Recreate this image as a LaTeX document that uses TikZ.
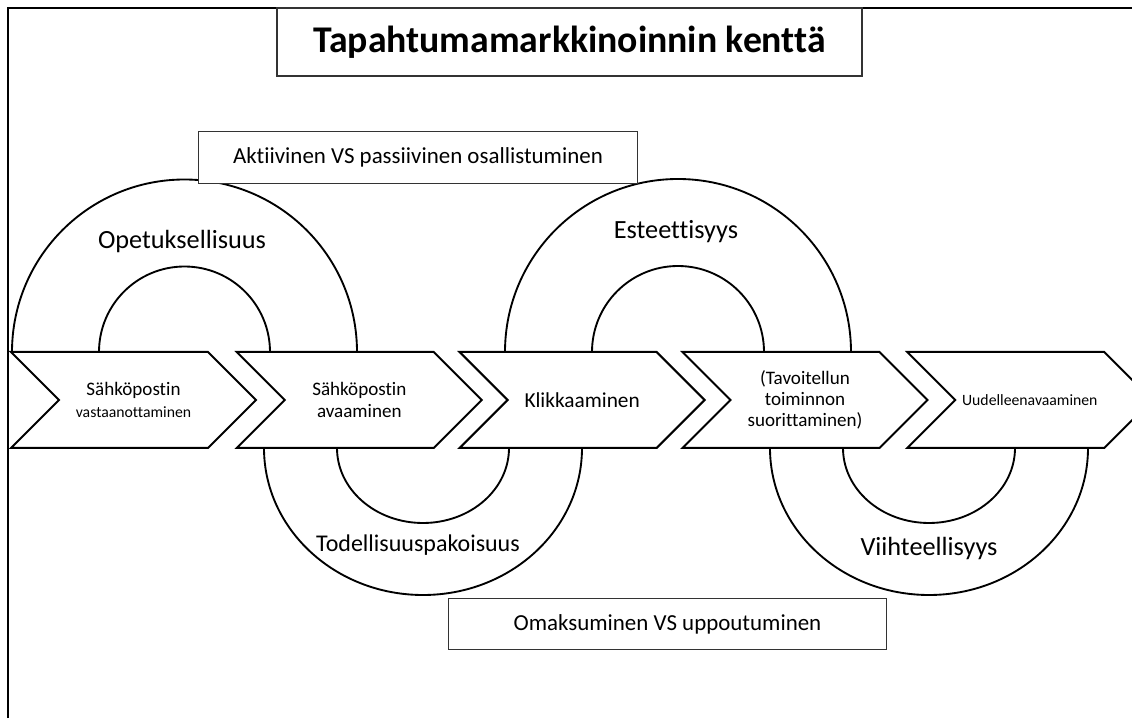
\documentclass[tikz,border=0pt]{standalone}
\usepackage{fontspec}
\setmainfont{Carlito}[Ligatures=NoCommon]
\usetikzlibrary{positioning,shapes.symbols}

\begin{document}
\begin{tikzpicture}[
    x=0.75pt, y=0.75pt,
    head/.style={draw=black!80, line width=0.8pt, fill=white, minimum width=438.75pt, minimum height=51pt, font=\bfseries\fontsize{28.3}{33}\selectfont},
    box/.style={draw=black!80, line width=0.8pt, fill=white, minimum width=329pt, minimum height=38.5pt, font=\fontsize{17.2}{21}\selectfont},
    chev/.style={shape=signal, signal from=west, signal to=east, draw, line width=1.5pt, fill=white, inner sep=0pt, minimum width=183.75pt, minimum height=72pt, align=center, font=\fontsize{14.3}{16}\selectfont},
    ring/.style={draw, line width=1.4pt, fill=white},
    lbl/.style={font=\fontsize{19.7}{23}\selectfont}
]
\useasboundingbox (0,0) rectangle (1132,718);
\draw[line width=1pt] (8,0) -- (8,710) -- (1132,710);

% half rings above the row
\draw[ring] (12,366) arc[start angle=180, end angle=0, radius=172.5] -- (270,366) arc[start angle=0, end angle=180, radius=85.5] -- cycle;
\draw[ring] (505,366) arc[start angle=180, end angle=0, radius=173] -- (764,366) arc[start angle=0, end angle=180, radius=86] -- cycle;
% half rings below the row
\draw[ring] (264,270) arc[start angle=180, end angle=360, x radius=159, y radius=147] -- (509,270) arc[start angle=0, end angle=-180, x radius=86, y radius=75] -- cycle;
\draw[ring] (770,270) arc[start angle=180, end angle=360, x radius=159, y radius=147] -- (1015,270) arc[start angle=0, end angle=-180, x radius=86, y radius=75] -- cycle;

\node[lbl] (opetus) at (182,476) {Opetuksellisuus};
\node[lbl] (esteet) at (676,486) {Esteettisyys};
\node[lbl, font=\fontsize{18}{21}\selectfont] (pako) at (418,173) {Todellisuuspakoisuus};
\node[lbl] (viihde) at (929,170) {Viihteellisyys};

\node[chev] (recv) at (133.5,318) {Sähköpostin\\{\fontsize{11.8}{14}\selectfont vastaanottaminen}};
\node[chev, right=19.5pt of recv] (open) {Sähköpostin\\avaaminen};
\node[chev, right=17.25pt of open, font=\fontsize{16}{19}\selectfont] (click) {Klikkaaminen};
\node[chev, right=17.25pt of click] (goal) {(Tavoitellun\\toiminnon\\suorittaminen)};
\node[chev, right=18.75pt of goal, font=\fontsize{11.8}{14}\selectfont] (reopen) {Uudelleenavaaminen};

\node[head] (title) at (569.5,676) {Tapahtumamarkkinoinnin kenttä};
\node[box] (active) at (418,560.5) {Aktiivinen VS passiivinen osallistuminen};
\node[box] (immerse) at (667.5,94) {Omaksuminen VS uppoutuminen};
\end{tikzpicture}
\end{document}
